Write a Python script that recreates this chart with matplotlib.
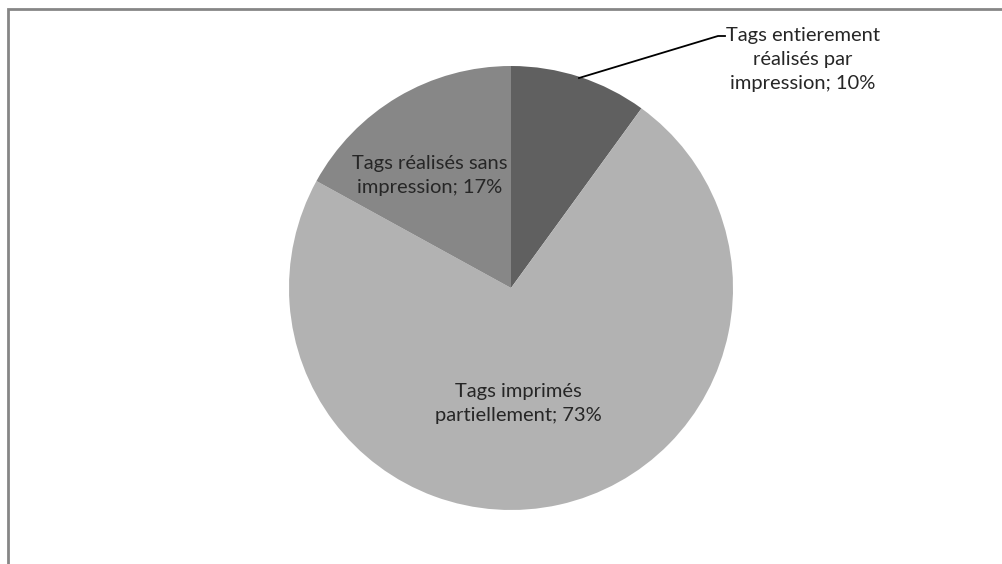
import matplotlib
matplotlib.use("Agg")
import matplotlib.pyplot as plt
from matplotlib.patches import Rectangle

labels = ["Tags entierement\nréalisés par\nimpression; 10%",
          "Tags imprimés\npartiellement; 73%",
          "Tags réalisés sans\nimpression; 17%"]
values = [10, 73, 17]
colors = ["#606060", "#b2b2b2", "#878787"]

W, H = 1003, 564
fig = plt.figure(figsize=(W / 100, H / 100), dpi=100)
ax = fig.add_axes([0, 0, 1, 1])

cx, cy, r = 511, H - 288, 222
ax.pie(values, colors=colors, startangle=90, counterclock=False,
       center=(cx, cy), radius=r, frame=True,
       wedgeprops=dict(linewidth=0))
ax.set_xlim(0, W)
ax.set_ylim(0, H)
ax.set_aspect("equal")
ax.axis("off")

# outer chart frame (extends beyond right/bottom edges)
ax.add_patch(Rectangle((8.5, -10), W + 10, H - 8 + 10 - 0.5, fill=False,
                       edgecolor="#868686", linewidth=2.0, zorder=0))

font = dict(family="Lato", fontsize=14.5, color="#262626", ha="center",
            va="center", linespacing=1.5)

# label positions (pixels from top)
ax.text(803, H - 59, labels[0], **font)
ax.text(518, H - 403, labels[1], **font)
ax.text(430, H - 175, labels[2], **font)

# leader line for the 10% slice
ax.plot([579, 718, 725], [H - 78, H - 36, H - 36], color="black", linewidth=1.3)

fig.savefig("out.png", dpi=100)
